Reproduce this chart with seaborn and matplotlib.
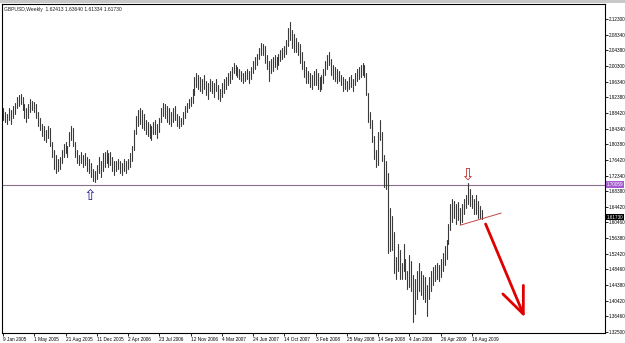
import numpy as np
import pandas as pd
import matplotlib
matplotlib.use("Agg")
import matplotlib.pyplot as plt
import seaborn as sns

# ---- data (weekly GBPUSD bars) ----
highs = [
    1.895, 1.885, 1.880, 1.895, 1.890, 1.900, 1.910, 1.925, 1.930, 1.932,
    1.925, 1.905, 1.895, 1.905, 1.920, 1.915, 1.912, 1.905, 1.885, 1.870,
    1.855, 1.850, 1.840, 1.850, 1.845, 1.810, 1.790, 1.775, 1.765, 1.770,
    1.790, 1.805, 1.810, 1.800, 1.835, 1.850, 1.845, 1.810, 1.790, 1.775,
    1.785, 1.775, 1.780, 1.770, 1.765, 1.755, 1.740, 1.735, 1.750, 1.770,
    1.760, 1.780, 1.785, 1.790, 1.780, 1.785, 1.770, 1.760, 1.760, 1.765,
    1.760, 1.755, 1.765, 1.760, 1.765, 1.780, 1.800, 1.840, 1.875, 1.890,
    1.895, 1.890, 1.880, 1.865, 1.860, 1.855, 1.850, 1.860, 1.865, 1.855,
    1.870, 1.895, 1.910, 1.905, 1.900, 1.895, 1.885, 1.895, 1.900, 1.880,
    1.875, 1.870, 1.885, 1.900, 1.910, 1.920, 1.925, 1.945, 1.975, 1.985,
    1.980, 1.975, 1.970, 1.980, 1.965, 1.960, 1.970, 1.965, 1.960, 1.970,
    1.955, 1.945, 1.960, 1.970, 1.975, 1.985, 1.990, 2.000, 2.010, 2.005,
    2.000, 1.995, 1.990, 1.985, 1.990, 1.995, 1.990, 2.000, 2.015, 2.025,
    2.035, 2.050, 2.062, 2.060, 2.055, 2.030, 2.015, 2.020, 2.025, 2.030,
    2.025, 2.035, 2.045, 2.050, 2.055, 2.070, 2.100, 2.116, 2.095, 2.085,
    2.075, 2.065, 2.060, 2.040, 2.015, 2.000, 1.990, 1.985, 1.980, 1.990,
    1.995, 1.985, 1.975, 1.980, 1.995, 2.015, 2.030, 2.040, 2.020, 2.005,
    2.000, 1.995, 1.990, 1.980, 1.975, 1.970, 1.965, 1.975, 1.980, 1.970,
    1.985, 1.995, 2.000, 2.005, 2.010, 2.005, 1.985, 1.935, 1.885, 1.865,
    1.825, 1.790, 1.835, 1.865, 1.835, 1.775, 1.760, 1.730, 1.640, 1.620,
    1.580, 1.515, 1.550, 1.535, 1.500, 1.550, 1.510, 1.480, 1.520, 1.505,
    1.470, 1.460, 1.480, 1.500, 1.480, 1.470, 1.465, 1.445, 1.465, 1.480,
    1.490, 1.495, 1.500, 1.495, 1.510, 1.525, 1.545, 1.560, 1.600, 1.650,
    1.665, 1.660, 1.650, 1.655, 1.640, 1.650, 1.665, 1.675, 1.704, 1.690,
    1.675, 1.665, 1.675, 1.660, 1.645, 1.6364,
]
lows = [
    1.865, 1.860, 1.855, 1.865, 1.855, 1.870, 1.880, 1.895, 1.900, 1.905,
    1.890, 1.870, 1.860, 1.870, 1.885, 1.890, 1.885, 1.870, 1.850, 1.840,
    1.825, 1.815, 1.810, 1.820, 1.800, 1.770, 1.740, 1.730, 1.735, 1.740,
    1.755, 1.770, 1.780, 1.770, 1.800, 1.815, 1.800, 1.770, 1.755, 1.750,
    1.755, 1.745, 1.750, 1.735, 1.730, 1.720, 1.710, 1.708, 1.715, 1.730,
    1.720, 1.735, 1.745, 1.755, 1.745, 1.750, 1.735, 1.725, 1.735, 1.740,
    1.730, 1.725, 1.735, 1.730, 1.740, 1.745, 1.760, 1.790, 1.830, 1.850,
    1.855, 1.845, 1.840, 1.830, 1.825, 1.820, 1.815, 1.830, 1.830, 1.820,
    1.835, 1.860, 1.875, 1.870, 1.860, 1.855, 1.850, 1.860, 1.865, 1.850,
    1.845, 1.850, 1.855, 1.870, 1.885, 1.895, 1.900, 1.910, 1.930, 1.950,
    1.945, 1.940, 1.935, 1.945, 1.930, 1.920, 1.940, 1.935, 1.925, 1.940,
    1.920, 1.915, 1.925, 1.935, 1.945, 1.955, 1.960, 1.970, 1.985, 1.980,
    1.975, 1.970, 1.965, 1.960, 1.965, 1.970, 1.960, 1.970, 1.985, 1.995,
    2.005, 2.020, 2.030, 2.030, 2.010, 1.995, 1.965, 1.985, 1.990, 2.000,
    1.995, 2.005, 2.015, 2.020, 2.025, 2.035, 2.055, 2.070, 2.050, 2.040,
    2.040, 2.030, 2.010, 1.995, 1.975, 1.960, 1.960, 1.950, 1.945, 1.955,
    1.955, 1.945, 1.940, 1.945, 1.960, 1.980, 1.995, 2.005, 1.980, 1.970,
    1.965, 1.960, 1.965, 1.955, 1.940, 1.945, 1.940, 1.945, 1.950, 1.940,
    1.955, 1.965, 1.970, 1.975, 1.980, 1.975, 1.930, 1.860, 1.845, 1.810,
    1.765, 1.745, 1.750, 1.815, 1.760, 1.695, 1.690, 1.525, 1.530, 1.535,
    1.475, 1.460, 1.480, 1.460, 1.460, 1.480, 1.460, 1.435, 1.440, 1.430,
    1.350, 1.370, 1.410, 1.430, 1.420, 1.410, 1.400, 1.365, 1.410, 1.430,
    1.445, 1.455, 1.460, 1.455, 1.465, 1.480, 1.495, 1.510, 1.550, 1.585,
    1.605, 1.615, 1.600, 1.610, 1.600, 1.605, 1.625, 1.640, 1.650, 1.645,
    1.640, 1.625, 1.625, 1.615, 1.615, 1.6133,
]

date_labels = ["9 Jan 2005", "1 May 2005", "21 Aug 2005", "11 Dec 2005",
               "2 Apr 2006", "23 Jul 2006", "12 Nov 2006", "4 Mar 2007",
               "24 Jun 2007", "14 Oct 2007", "3 Feb 2008", "25 May 2008",
               "14 Sep 2008", "4 Jan 2009", "26 Apr 2009", "16 Aug 2009"]
date_tick_weeks = [0, 16, 32, 48, 64, 80, 96, 112, 128, 144, 160, 176,
                   192, 208, 224, 240]
price_ticks = [2.12300, 2.08340, 2.04380, 2.00300, 1.96340, 1.92380, 1.88420,
               1.84340, 1.80380, 1.76420, 1.72340, 1.68380, 1.64420, 1.60460,
               1.56380, 1.52420, 1.48460, 1.44380, 1.40420, 1.36460, 1.32500]
level_price = 1.70059
last_close = 1.61730
title_text = "GBPUSD,Weekly  1.62413 1.63640 1.61334 1.61730"

trend_weeks = [234, 255]
trend_prices = [1.597, 1.628]
big_arrow_start = (247.0, 1.600)
big_arrow_tip = (267.0, 1.362)
up_mark = (44.5, 1.672)
down_mark = (237.5, 1.727)

# ---- drawing ----
sns.set_theme(style="white")
plt.rcParams['font.family'] = ['Liberation Sans', 'DejaVu Sans']

fig = plt.figure(figsize=(6.25, 3.43), dpi=100)
fig.patch.set_facecolor("white")
ax = fig.add_axes([2 / 625, 10 / 343, 603 / 625, 329 / 343])
ax.set_facecolor("white")

weeks = np.arange(len(highs))
bars = pd.DataFrame({
    "week": np.repeat(weeks, 2),
    "price": np.column_stack([lows, highs]).ravel(),
})
sns.lineplot(data=bars, x="week", y="price", units="week", estimator=None,
             color="#3a3a3a", lw=0.8, ax=ax, legend=False)

ax.axhline(level_price, color="#8e6e8e", lw=0.8, zorder=1)
ax.plot(trend_weeks, trend_prices, color="#c04848", lw=0.7)

ax.text(up_mark[0], up_mark[1], "\u21e7", color="#1c1c8c", fontsize=11,
        ha="center", va="center", family=["DejaVu Sans"])
ax.text(down_mark[0], down_mark[1], "\u21e9", color="#c03030", fontsize=12,
        ha="center", va="center", family=["DejaVu Sans"])
ax.annotate("", xy=big_arrow_tip, xytext=big_arrow_start,
            arrowprops=dict(arrowstyle="->,head_length=1.9,head_width=0.8",
                            color="#e00000", lw=2.0, mutation_scale=10,
                            shrinkA=0, shrinkB=0))

ax.set_xlim(-0.5, 308.1)
ax.set_ylim(1.322, 2.1613)
ax.set_xlabel("")
ax.set_ylabel("")

ax.yaxis.tick_right()
ax.set_yticks(price_ticks)
ax.set_yticklabels([f"{p:.5f}" for p in price_ticks])
ax.set_xticks(date_tick_weeks)
ax.set_xticklabels(date_labels)
for lbl in ax.get_xticklabels():
    lbl.set_ha("left")
ax.tick_params(axis="y", which="both", right=True, left=False, length=2.0,
               width=0.6, direction="out", labelsize=3.3, pad=1.0,
               colors="black")
ax.tick_params(axis="x", which="both", bottom=True, length=2.0, width=0.6,
               direction="out", labelsize=3.4, pad=1, colors="black")
for s in ax.spines.values():
    s.set_color("black")
    s.set_linewidth(0.8)

trans = ax.get_yaxis_transform()
ax.text(1.003, level_price, f"{level_price:.5f}", transform=trans,
        fontsize=3.3, color="white", va="center", ha="left",
        bbox=dict(boxstyle="square,pad=0.15", fc="#a35ad0", ec="none"))
ax.text(1.003, last_close, f"{last_close:.5f}", transform=trans,
        fontsize=3.3, color="white", va="center", ha="left",
        bbox=dict(boxstyle="square,pad=0.15", fc="black", ec="none"))

ax.text(0.004, 0.99, title_text, transform=ax.transAxes, fontsize=3.6,
        va="top", ha="left", color="#202020")

fig.add_artist(plt.Rectangle((0, 1 - 3 / 343), 1, 3 / 343,
                             transform=fig.transFigure, color="#c8c8c8",
                             lw=0))

fig.savefig("out.png", dpi=100)
